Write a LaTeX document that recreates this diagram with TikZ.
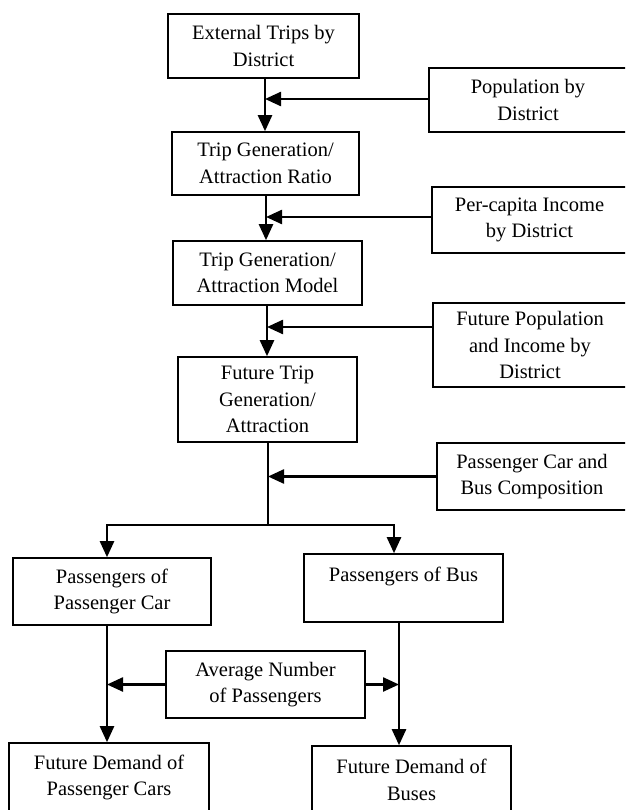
\documentclass[tikz,border=0pt]{standalone}
\usepackage{fontspec}
\setmainfont{Liberation Serif}
\usetikzlibrary{arrows.meta}
\begin{document}
\begin{tikzpicture}[x=1pt,y=-1pt,
  box/.style={draw,line width=1.6pt,inner sep=0pt,align=center,
    font=\fontsize{20.5}{26.5}\selectfont},
  arr/.style={line width=2.4pt,-{Triangle[length=16pt,width=14pt]}},
  ln/.style={line width=2.4pt}]
\useasboundingbox (0,0) rectangle (625,810);
\clip (0,0) rectangle (625,810);
% main column
\node[box,minimum width=191pt,minimum height=64pt] (b1) at (263.5,46) {External Trips by\\District};
\node[box,minimum width=187pt,minimum height=63pt] (b2) at (265.5,163.5) {Trip Generation/\\Attraction Ratio};
\node[box,minimum width=189pt,minimum height=64pt] (b3) at (267.5,273) {Trip Generation/\\Attraction Model};
\node[box,minimum width=179pt,minimum height=85pt] (b4) at (267.5,399.5) {Future Trip\\Generation/\\Attraction};
% right inputs
\node[box,minimum width=198pt,minimum height=64pt] (pop) at (528,100) {Population by\\District};
\node[box,minimum width=195pt,minimum height=66pt] (pc) at (529.5,220) {Per-capita Income\\by District};
\node[box,minimum width=194pt,minimum height=84pt] (fp) at (530,345) {Future Population\\and Income by\\District};
\node[box,minimum width=190pt,minimum height=67pt] (comp) at (532,476.5) {Passenger Car and\\Bus Composition};
% lower part
\node[box,minimum width=198pt,minimum height=67pt] (pcar) at (112,591.5) {Passengers of\\Passenger Car};
\node[box,minimum width=199pt,minimum height=68pt] (pbus) at (403.5,588) {Passengers of Bus\\\mbox{}};
\node[box,minimum width=199pt,minimum height=67pt] (avg) at (265.5,684.5) {Average Number\\of Passengers};
\node[box,minimum width=200pt,minimum height=69pt] (fdc) at (109,777.5) {Future Demand of\\Passenger Cars};
\node[box,minimum width=199pt,minimum height=68pt] (fdb) at (411.5,780) {Future Demand of\\Buses};
% column coordinates
\coordinate (x1) at (265,0);
\coordinate (x2) at (266,0);
\coordinate (x3) at (267,0);
\coordinate (x4) at (268,0);
\coordinate (split) at (268,525);
\coordinate (xl) at (107,525);
\coordinate (xr) at (394,525);
\coordinate (xl2) at (107,0);
\coordinate (xr2) at (399,0);
% connectors
\draw[arr] (b1.south -| x1) -- (b2.north -| x1);
\draw[arr] ([yshift=1pt]pop.west) -- ([yshift=1pt]pop.west -| x1);
\draw[arr] (b2.south -| x2) -- (b3.north -| x2);
\draw[arr] ([yshift=3pt]pc.west) -- ([yshift=3pt]pc.west -| x2);
\draw[arr] (b3.south -| x3) -- (b4.north -| x3);
\draw[arr] ([yshift=18pt]fp.west) -- ([yshift=18pt]fp.west -| x3);
\draw[ln] (b4.south -| x4) -- (split);
\draw[arr] (comp.west) -- (comp.west -| x4);
\draw[ln,line cap=rect] (xl) -- (xr);
\draw[arr] (xl) -- (pcar.north -| xl);
\draw[arr] (xr) -- (pbus.north -| xr);
\draw[arr] (pcar.south -| xl2) -- (fdc.north -| xl2);
\draw[arr] (pbus.south -| xr2) -- (fdb.north -| xr2);
\draw[arr] (avg.west) -- (avg.west -| xl2);
\draw[arr] (avg.east) -- (avg.east -| xr2);
\end{tikzpicture}
\end{document}
